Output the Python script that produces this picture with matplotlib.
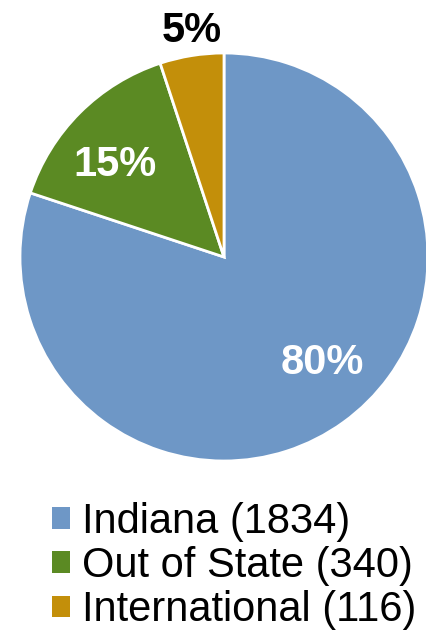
import numpy as np
import matplotlib.pyplot as plt

plt.rcParams['font.family'] = ['Liberation Sans', 'DejaVu Sans']

# data
labels = ['Indiana', 'Out of State', 'International']
counts = [1834, 340, 116]
colors = ['#6E97C6', '#5B8A23', '#C38F0A']

fig = plt.figure(figsize=(4.27, 6.34), dpi=100)
ax = fig.add_axes([20 / 427, 1 - 461 / 634, 408 / 427, 408 / 634])

wedges, texts, autotexts = ax.pie(
    counts, colors=colors, startangle=90, counterclock=False,
    autopct='%.0f%%', pctdistance=0.7,
    wedgeprops=dict(edgecolor='white', linewidth=2),
    textprops=dict(fontsize=30, fontweight='bold', color='white'))
ax.set_xlim(-1, 1)
ax.set_ylim(-1, 1)

# label placement (angle in degrees, radius), like the excel "best fit"
label_pos = [(-47, 0.71), (140, 0.70), (98, 1.12)]
for t, (a, r) in zip(autotexts, label_pos):
    t.set_position((r * np.cos(np.deg2rad(a)), r * np.sin(np.deg2rad(a))))
autotexts[2].set_color('black')

leg_labels = [f'{l} ({c})' for l, c in zip(labels, counts)]
fig.legend(wedges, leg_labels, loc='upper left',
           bbox_to_anchor=(52 / 427, 1 - 502 / 634), frameon=False,
           fontsize=30, handlelength=0.42, handleheight=0.42,
           handletextpad=0.3, labelspacing=0.1, borderpad=0, borderaxespad=0)
for h in fig.legends[0].legend_handles:
    h.set_edgecolor('none')

fig.savefig('out.png', dpi=100)
